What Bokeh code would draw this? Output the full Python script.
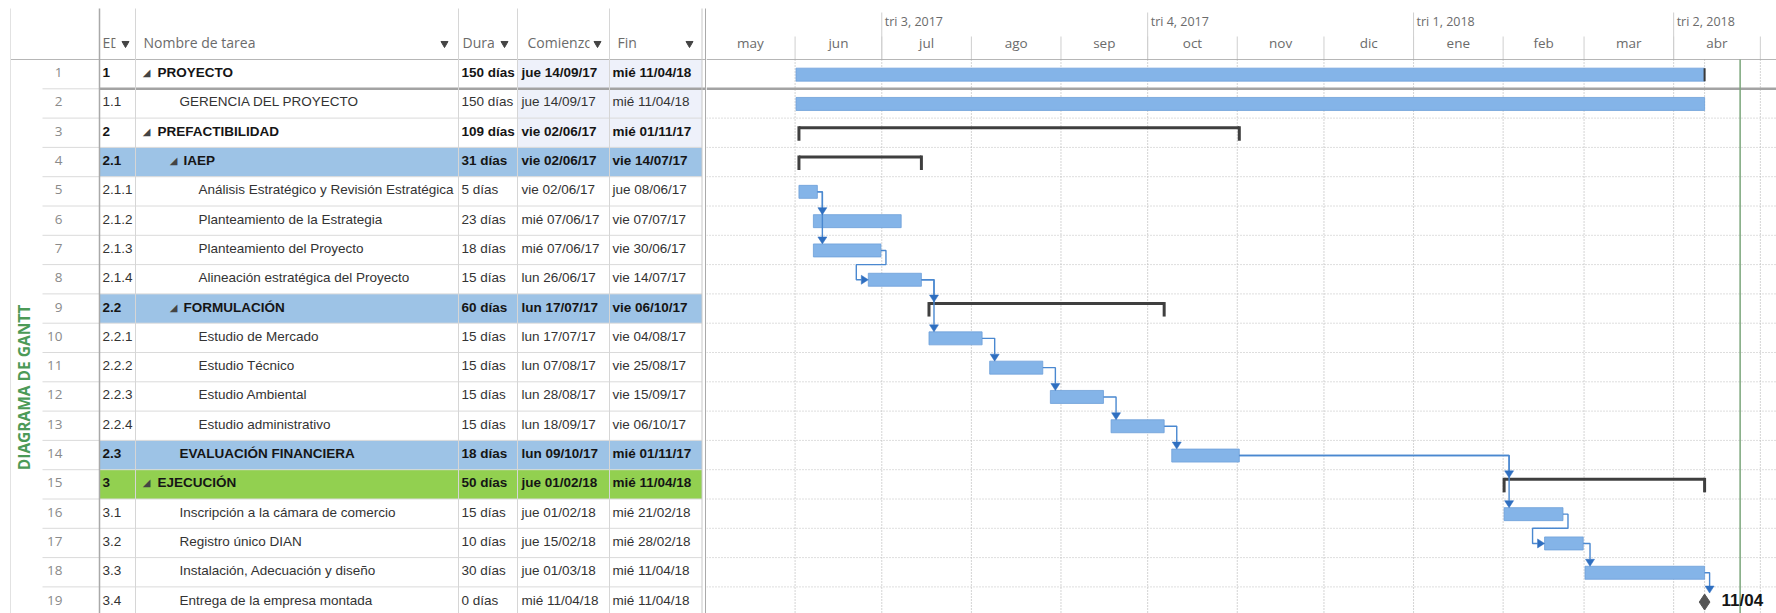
import math
from datetime import datetime, timedelta
from bokeh.plotting import figure
from bokeh.layouts import row
from bokeh.models import Range1d
from bokeh.core.properties import value
from bokeh.embed import file_html
from bokeh.resources import INLINE

# ---------------- data ----------------
row_ids = list(range(1, 20))
wbs = ["1", "1.1", "2", "2.1", "2.1.1", "2.1.2", "2.1.3", "2.1.4", "2.2", "2.2.1",
       "2.2.2", "2.2.3", "2.2.4", "2.3", "3", "3.1", "3.2", "3.3", "3.4"]
task_names = ["PROYECTO", "GERENCIA DEL PROYECTO", "PREFACTIBILIDAD", "IAEP",
              "Análisis Estratégico y Revisión Estratégica", "Planteamiento de la Estrategia",
              "Planteamiento del Proyecto", "Alineación estratégica del Proyecto", "FORMULACIÓN",
              "Estudio de Mercado", "Estudio Técnico", "Estudio Ambiental", "Estudio administrativo",
              "EVALUACIÓN FINANCIERA", "EJECUCIÓN", "Inscripción a la cámara de comercio",
              "Registro único DIAN", "Instalación, Adecuación y diseño", "Entrega de la empresa montada"]
durations = ["150 días", "150 días", "109 días", "31 días", "5 días", "23 días", "18 días", "15 días",
             "60 días", "15 días", "15 días", "15 días", "15 días", "18 días", "50 días", "15 días",
             "10 días", "30 días", "0 días"]
start_labels = ["jue 14/09/17", "jue 14/09/17", "vie 02/06/17", "vie 02/06/17", "vie 02/06/17",
                "mié 07/06/17", "mié 07/06/17", "lun 26/06/17", "lun 17/07/17", "lun 17/07/17",
                "lun 07/08/17", "lun 28/08/17", "lun 18/09/17", "lun 09/10/17", "jue 01/02/18",
                "jue 01/02/18", "jue 15/02/18", "jue 01/03/18", "mié 11/04/18"]
finish_labels = ["mié 11/04/18", "mié 11/04/18", "mié 01/11/17", "vie 14/07/17", "jue 08/06/17",
                 "vie 07/07/17", "vie 30/06/17", "vie 14/07/17", "vie 06/10/17", "vie 04/08/17",
                 "vie 25/08/17", "vie 15/09/17", "vie 06/10/17", "mié 01/11/17", "mié 11/04/18",
                 "mié 21/02/18", "mié 28/02/18", "mié 11/04/18", "mié 11/04/18"]
outline_level = [1, 2, 1, 2, 3, 3, 3, 3, 2, 3, 3, 3, 3, 2, 1, 2, 2, 2, 2]
task_kind = ["project", "task", "summary", "summary", "task", "task", "task", "task", "summary",
             "task", "task", "task", "task", "task", "summary", "task", "task", "task", "milestone"]
bold_rows = [1, 3, 4, 9, 14, 15]
blue_rows = [4, 9, 14]
green_rows = [15]
changed_rows = [1, 2, 3]
bar_start = ["2017-06-01", "2017-06-01", "2017-06-02", "2017-06-02", "2017-06-02", "2017-06-07",
             "2017-06-07", "2017-06-26", "2017-07-17", "2017-07-17", "2017-08-07", "2017-08-28",
             "2017-09-18", "2017-10-09", "2018-02-01", "2018-02-01", "2018-02-15", "2018-03-01",
             "2018-04-11"]
bar_finish = ["2018-04-11", "2018-04-11", "2017-11-01", "2017-07-14", "2017-06-08", "2017-07-07",
              "2017-06-30", "2017-07-14", "2017-10-06", "2017-08-04", "2017-08-25", "2017-09-15",
              "2017-10-06", "2017-11-01", "2018-04-11", "2018-02-21", "2018-02-28", "2018-04-11",
              "2018-04-11"]
links = [(5, 6, "down"), (5, 7, "down"), (7, 8, "s"), (8, 9, "down"), (8, 10, "down"),
         (10, 11, "down"), (11, 12, "down"), (12, 13, "down"), (13, 14, "down"),
         (14, 15, "down"), (14, 16, "down"), (16, 17, "s"), (17, 18, "down"), (18, 19, "down")]
month_labels = ["may", "jun", "jul", "ago", "sep", "oct", "nov", "dic", "ene", "feb", "mar", "abr"]
month_starts = ["2017-05-01", "2017-06-01", "2017-07-01", "2017-08-01", "2017-09-01", "2017-10-01",
                "2017-11-01", "2017-12-01", "2018-01-01", "2018-02-01", "2018-03-01", "2018-04-01",
                "2018-05-01"]
quarter_labels = ["tri 3, 2017", "tri 4, 2017", "tri 1, 2018", "tri 2, 2018"]
quarter_starts = ["2017-07-01", "2017-10-01", "2018-01-01", "2018-04-01"]
header_labels = ["EDT", "Nombre de tarea", "Duración", "Comienzo", "Fin"]
side_title = "DIAGRAMA DE GANTT"
status_date = "2018-04-24"
milestone_label = "11/04"

# ---------------- styling / layout ----------------
FONT = "Liberation Sans"
UI = "Open Sans"
W_T, W_G, H = 706, 1070, 613
RH = 29.3
HDR = 59.0
BLUE_ROW = "#9dc3e6"
GREEN_ROW = "#92d050"
TINT = "#eef1fa"
BAR_FILL = "#84b4e8"
BAR_LINE = "#6d9fd9"
LINK = "#4a88d0"
HEAD = "#2f6fc0"


def yc(i):
    return HDR + (i - 0.5) * RH


def ytop(i):
    return HDR + (i - 1) * RH


def txt(fig, xs, ys, texts, size, color, bold=False, font=FONT, align="left", angle=0.0, x_offset=0):
    fig.text(x=xs, y=ys, text=texts, text_font=value(font), text_font_size=f"{size}px",
             text_color=color, text_font_style="bold" if bold else "normal",
             text_align=align, text_baseline="middle", angle=angle, x_offset=x_offset)


def base_fig(**kw):
    f = figure(height=H, toolbar_location=None, output_backend="svg", min_border=0,
               outline_line_color=None, x_axis_location=None, y_axis_location=None,
               background_fill_color="white", border_fill_color="white", **kw)
    f.grid.visible = False
    return f


# ================= table =================
t = base_fig(width=W_T, x_range=Range1d(0, W_T), y_range=Range1d(H, 0))

EDT_L = 99
cols = [("edt", EDT_L, 135), ("name", 135, 458), ("dur", 458, 517), ("start", 517, 609), ("fin", 609, 701.5)]
ys_txt = [yc(i) - 1.5 for i in row_ids]


def row_color(i, key):
    if i in blue_rows:
        return BLUE_ROW
    if i in green_rows:
        return GREEN_ROW
    if key in ("start", "fin") and i in changed_rows:
        return TINT
    return "white"


# row numbers
txt(t, [62] * 19, ys_txt, [str(i) for i in row_ids], 13.5, "#8a8a8a", font=UI, align="right")

name_x, tri_x, tri_y = [], [], []
for i in row_ids:
    lvl = outline_level[i - 1]
    if task_kind[i - 1] in ("summary", "project"):
        name_x.append(157 if lvl == 1 else 183)
        tri_x.append(146 if lvl == 1 else 173)
        tri_y.append(yc(i) - 1.5)
    else:
        name_x.append(179 if lvl == 2 else 198)

col_text = {
    "edt": ([EDT_L + 3] * 19, wbs),
    "name": (name_x, task_names),
    "dur": ([461] * 19, durations),
    "start": ([521] * 19, start_labels),
    "fin": ([612] * 19, finish_labels),
}
for key, left, right in cols:
    t.quad(left=[left] * 19, right=[right] * 19, top=[ytop(i) for i in row_ids],
           bottom=[ytop(i) + RH for i in row_ids], fill_color=[row_color(i, key) for i in row_ids],
           line_color=None)
    xs, labels = col_text[key]
    b_idx = [i - 1 for i in row_ids if i in bold_rows]
    n_idx = [i - 1 for i in row_ids if i not in bold_rows]
    txt(t, [xs[k] for k in b_idx], [ys_txt[k] for k in b_idx], [labels[k] for k in b_idx], 13.5, "#151515", bold=True)
    txt(t, [xs[k] for k in n_idx], [ys_txt[k] for k in n_idx], [labels[k] for k in n_idx], 13.5, "#333333")
    if key == "name":
        txt(t, tri_x, tri_y, ["◢"] * len(tri_x), 10, "#444444", font="DejaVu Sans", align="center")

# clip overflow past Fin column
t.quad(left=[701.5], right=[W_T], top=[HDR], bottom=[H], fill_color="white", line_color=None)

# horizontal row lines
bnd = [ytop(i) for i in range(3, 21)]
t.segment(x0=[42] * len(bnd), y0=bnd, x1=[701.5] * len(bnd), y1=bnd, line_color="#dadada", line_width=1)
t.segment(x0=[42], y0=[ytop(2)], x1=[EDT_L], y1=[ytop(2)], line_color="#dadada", line_width=1)
t.segment(x0=[EDT_L], y0=[ytop(2)], x1=[W_T], y1=[ytop(2)], line_color="#a3a3a3", line_width=2.5)

# header (each column clips the previous one)
hdr_cols = [(EDT_L, 135, EDT_L + 3, EDT_L + 16, EDT_L + 26), (135, 458, 143, None, 444),
            (458, 517, 462, 494, 504), (517, 609, 527, 589, 597), (609, 701.5, 617, None, 689)]
for k, (left, right, tx_, clip, ax) in enumerate(hdr_cols):
    t.quad(left=[left + 0.5], right=[right - 0.5], top=[9], bottom=[58], fill_color="white", line_color=None)
    txt(t, [tx_], [42], [header_labels[k]], 14, "#6b6b6b", font=UI)
    if clip is not None:
        t.quad(left=[clip], right=[right - 0.5], top=[9], bottom=[58], fill_color="white", line_color=None)
t.scatter(x=[c[4] for c in hdr_cols], y=[43] * 5, marker="inverted_triangle", size=7,
          fill_color="#444444", line_color="#444444")
t.segment(x0=[10], y0=[HDR], x1=[W_T], y1=[HDR], line_color="#b6b6b6", line_width=1)

# vertical lines
vx = [135, 458, 517, 609]
t.segment(x0=vx, y0=[8] * 4, x1=vx, y1=[H] * 4, line_color="#d6d6d6", line_width=1)
t.segment(x0=[EDT_L], y0=[8], x1=[EDT_L], y1=[H], line_color="#a9a9a9", line_width=1.5)
t.segment(x0=[701.5, 705], y0=[8, 8], x1=[701.5, 705], y1=[H, H], line_color=["#c8c8c8", "#aaaaaa"], line_width=1)
t.segment(x0=[10], y0=[8], x1=[10], y1=[H], line_color="#e2e2e2", line_width=1)

# side title
txt(t, [23], [387], [side_title], 15.5, "#4c9a57", bold=True, font=UI, align="center", angle=math.pi / 2)

# ================= gantt =================
DAY_MS = 86400000.0
PXD = 2.89


def ms(s, hours=0):
    d = datetime.strptime(s, "%Y-%m-%d") + timedelta(hours=hours)
    return (d - datetime(1970, 1, 1)).total_seconds() * 1000.0


def px(n):
    return n / PXD * DAY_MS


x0 = ms(month_starts[0]) + px(1)
x1 = x0 + px(W_G)
g = base_fig(width=W_G, x_axis_type="datetime", x_range=Range1d(x0, x1), y_range=Range1d(H, 0))

s_ms = [ms(s, 8) for s in bar_start]
e_ms = [ms(s, 17) for s in bar_finish]
for k, kind in enumerate(task_kind):
    if kind == "milestone":
        s_ms[k] = e_ms[k]

# header
m_x = [ms(s) for s in month_starts]
mid_x = [(m_x[k] + m_x[k + 1]) / 2 for k in range(len(month_labels))]
txt(g, mid_x, [42] * len(mid_x), month_labels, 13.5, "#6b6b6b", font=UI, align="center")
q_x = [ms(s) for s in quarter_starts]
txt(g, q_x, [21] * 4, quarter_labels, 12.5, "#6b6b6b", font=UI, x_offset=3)
g.segment(x0=m_x, y0=[36] * len(m_x), x1=m_x, y1=[HDR] * len(m_x), line_color="#cfcfcf", line_width=1)
g.segment(x0=q_x, y0=[12] * 4, x1=q_x, y1=[HDR] * 4, line_color="#cfcfcf", line_width=1)
g.segment(x0=[x0], y0=[HDR], x1=[x1], y1=[HDR], line_color="#b6b6b6", line_width=1)

# body grid
g.segment(x0=m_x, y0=[HDR] * len(m_x), x1=m_x, y1=[H] * len(m_x), line_color="#a8a8a8",
          line_width=1, line_dash="1 2")
g.segment(x0=[e_ms[0]], y0=[HDR], x1=[e_ms[0]], y1=[H], line_color="#a8a8a8", line_width=1, line_dash="1 2")
hb = [ytop(i) for i in range(3, 21)]
g.segment(x0=[x0] * len(hb), y0=hb, x1=[x1] * len(hb), y1=hb, line_color="#bdbdbd", line_width=1, line_dash="1 2")
g.segment(x0=[x0], y0=[ytop(2)], x1=[x1], y1=[ytop(2)], line_color="#a3a3a3", line_width=2.5)

# status line
sd = ms(status_date)
g.segment(x0=[sd], y0=[HDR], x1=[sd], y1=[H], line_color="#7aa57a", line_width=1.5)

# task bars
bi = [k for k, kind in enumerate(task_kind) if kind in ("task", "project")]
g.quad(left=[s_ms[k] for k in bi], right=[e_ms[k] for k in bi],
       top=[yc(k + 1) - 6 for k in bi], bottom=[yc(k + 1) + 7 for k in bi],
       fill_color=BAR_FILL, line_color=BAR_LINE, line_width=0.8)
pi_ = [k for k, kind in enumerate(task_kind) if kind == "project"]
g.segment(x0=[e_ms[k] for k in pi_], y0=[yc(k + 1) - 6 for k in pi_], x1=[e_ms[k] for k in pi_],
          y1=[yc(k + 1) + 7 for k in pi_], line_color="#3a3a3a", line_width=2)

# summary brackets
si = [k for k, kind in enumerate(task_kind) if kind == "summary"]
g.segment(x0=[s_ms[k] for k in si], y0=[yc(k + 1) - 5 for k in si], x1=[e_ms[k] for k in si],
          y1=[yc(k + 1) - 5 for k in si], line_color="#3f3f3f", line_width=3)
cap_x = [s_ms[k] for k in si] + [e_ms[k] for k in si]
cap_y = [yc(k + 1) for k in si] * 2
g.segment(x0=cap_x, y0=[y - 6.5 for y in cap_y], x1=cap_x, y1=[y + 8 for y in cap_y],
          line_color="#3f3f3f", line_width=3)

# links
lx, ly, hx, hy = [], [], [], []
for p, s, style in links:
    pk, sk = p - 1, s - 1
    yf = yc(p) + 0.5
    if style == "down":
        xl = max(s_ms[sk], e_ms[pk]) + px(5)
        kind = task_kind[sk]
        tip = yc(s) - (6.5 if kind == "summary" else 8.5 if kind == "milestone" else 6)
        lx.append([e_ms[pk], xl, xl])
        ly.append([yf, yf, tip - 7])
        hx.append([xl - px(4.5), xl + px(4.5), xl])
        hy.append([tip - 7, tip - 7, tip])
    else:
        xa = e_ms[pk] + px(5)
        yb = ytop(s)
        xb = s_ms[sk] - px(12)
        ys = yc(s) + 0.5
        lx.append([e_ms[pk], xa, xa, xb, xb, s_ms[sk] - px(7)])
        ly.append([yf, yf, yb, yb, ys, ys])
        hx.append([s_ms[sk] - px(7), s_ms[sk] - px(7), s_ms[sk]])
        hy.append([ys - 4.5, ys + 4.5, ys])
g.multi_line(xs=lx, ys=ly, line_color=LINK, line_width=1.4)
g.patches(xs=hx, ys=hy, fill_color=HEAD, line_color=HEAD, line_width=0.5)

# milestone
mi = [k for k, kind in enumerate(task_kind) if kind == "milestone"]
g.scatter(x=[e_ms[k] for k in mi], y=[yc(k + 1) + 0.5 for k in mi], marker="diamond", size=16,
          fill_color="#555555", line_color="#555555")
txt(g, [e_ms[k] for k in mi], [yc(k + 1) - 1 for k in mi], [milestone_label], 17, "#151515",
    bold=True, x_offset=17)

layout = row(t, g)
open("out.html", "w").write(file_html(layout, INLINE))
